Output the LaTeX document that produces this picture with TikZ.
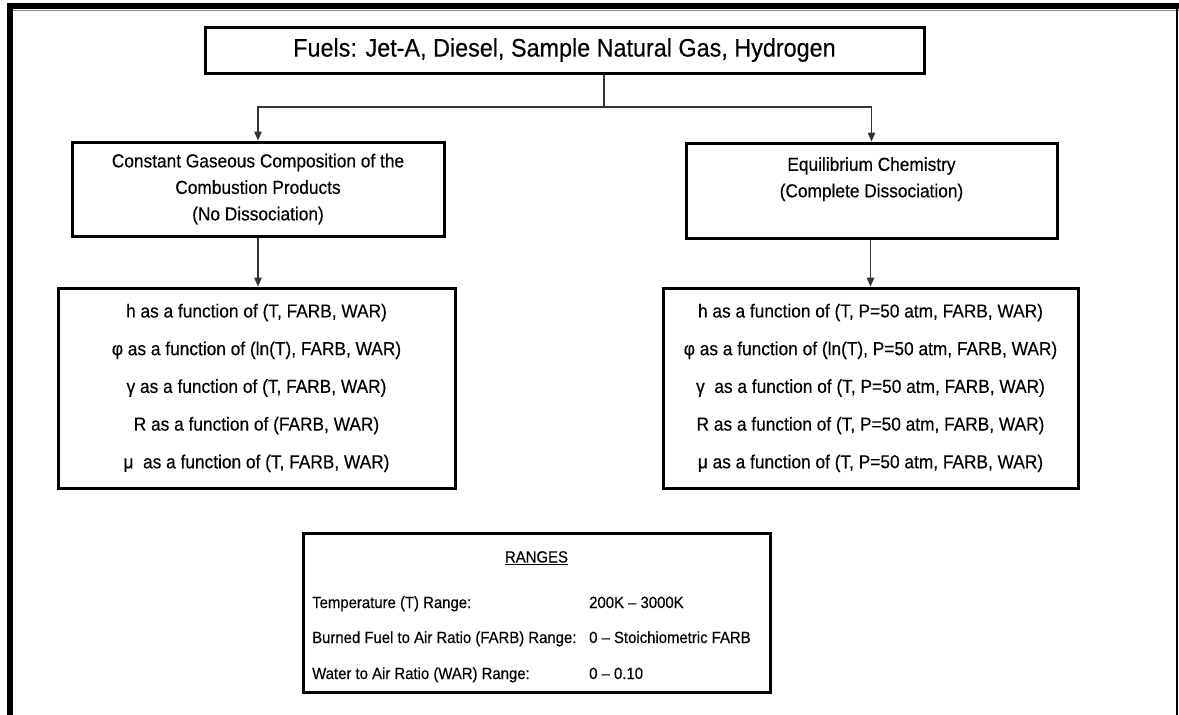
\documentclass[tikz,border=0pt]{standalone}
\usepackage{fontspec}
\setmainfont{Liberation Sans}[FakeStretch=0.92,FakeBold=0.3]
\usetikzlibrary{arrows.meta}
\begin{document}
\begin{tikzpicture}[x=1pt,y=-1pt,
  box/.style={draw=black, line width=3pt, inner sep=0pt, align=center,
              font=\fontsize{18.8}{26.5}\selectfont},
  funbox/.style={box, font=\fontsize{18.8}{37.7}\selectfont},
  conn/.style={draw=black!80, line width=1.3pt},
  arr/.style={conn, -{Triangle[length=9pt,width=7.5pt]}},
  rtext/.style={anchor=base west, inner sep=0pt, font=\fontsize{16.2}{18}\selectfont},
]
\useasboundingbox (0,0) rectangle (1179,715);

% page frame: heavy top and left rules, thin right rule
\fill[black] (7.3,3.3) rectangle (1179,9.3);
\draw[black!45, line width=1.2pt] (12.7,10.3) -- (1179,10.3);
\fill[black] (7.3,3.3) rectangle (12.7,715);
\draw[black, line width=2pt] (1177,9.3) -- (1177,715);

% fuel selection
\node[box, minimum width=719pt, minimum height=46pt,
      font=\fontsize{25.4}{28}\selectfont] (fuels) at (564.5,50)
  {Fuels: Jet-A, Diesel, Sample Natural Gas, Hydrogen};

% the two modelling approaches
\node[box, minimum width=372pt, minimum height=94pt] (frozen) at (258,189)
  {Constant Gaseous Composition of the\\Combustion Products\\(No Dissociation)};
\node[box, minimum width=371pt, minimum height=95pt] (equil) at (871.5,190.5)
  {Equilibrium Chemistry\\(Complete Dissociation)\\\mbox{}};

% property functions
\node[funbox, minimum width=397pt, minimum height=200pt] (frozenfun) at (256.5,388)
  {h as a function of (T, FARB, WAR)\\
   φ as a function of (ln(T), FARB, WAR)\\
   γ as a function of (T, FARB, WAR)\\
   R as a function of (FARB, WAR)\\
   μ\ \ as a function of (T, FARB, WAR)};
\node[funbox, minimum width=415pt, minimum height=200pt] (equilfun) at (870.5,388)
  {h as a function of (T, P=50 atm, FARB, WAR)\\
   φ as a function of (ln(T), P=50 atm, FARB, WAR)\\
   γ\ \ as a function of (T, P=50 atm, FARB, WAR)\\
   R as a function of (T, P=50 atm, FARB, WAR)\\
   μ as a function of (T, P=50 atm, FARB, WAR)};

% connectors
\coordinate (split) at (604,107);
\draw[conn] (fuels.south -| split) -- (split);
\draw[arr] (split) -| (frozen.north);
\draw[arr] (split) -| (equil.north);
\draw[arr] (frozen.south) -- (frozen.south |- frozenfun.north);
\draw[arr] (equil.south -| equilfun.north) -- (equilfun.north);

% ranges table
\node[draw=black, line width=3pt, minimum width=467pt, minimum height=159pt,
      inner sep=0pt] (ranges) at (536.5,612.5) {};
\node[rtext, anchor=base] (rhead) at (536.5,562.5) {\underline{RANGES}};
\node[rtext] (tlab) at (312,608) {Temperature (T) Range:};
\node[rtext] (tval) at (589,608) {200K – 3000K};
\node[rtext] (flab) at (312,643) {Burned Fuel to Air Ratio (FARB) Range:};
\node[rtext] (fval) at (589,643) {0 – Stoichiometric FARB};
\node[rtext] (wlab) at (312,679) {Water to Air Ratio (WAR) Range:};
\node[rtext] (wval) at (589,679) {0 – 0.10};
\end{tikzpicture}
\end{document}
